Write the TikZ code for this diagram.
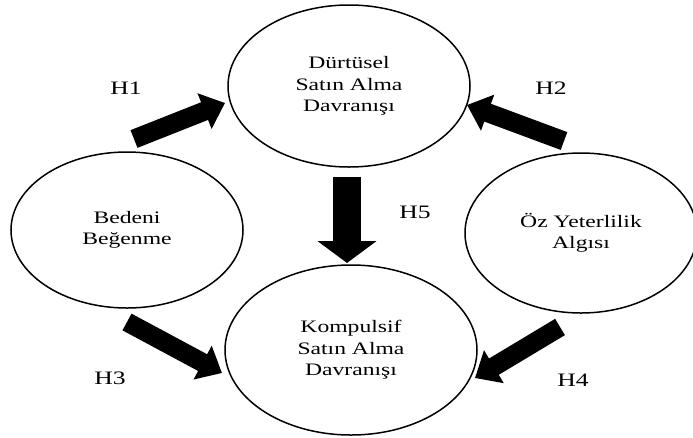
\documentclass[tikz,border=0pt]{standalone}
\usepackage{fontspec}
\setmainfont{Liberation Serif}
\newfontfamily\figfont[FakeStretch=1.35]{Liberation Serif}
\usetikzlibrary{shapes.geometric,arrows.meta}
\begin{document}
\begin{tikzpicture}[x=1pt,y=-1pt,
  ell/.style={draw, ellipse, line width=1.5pt, inner sep=0pt, align=center,
    font=\figfont\fontsize{17.5}{21.5}\selectfont},
  lbl/.style={font=\figfont\fontsize{19}{22}\selectfont, inner sep=0pt},
  barrow/.style={line width=19pt, -{Triangle[width=37pt,length=22pt]}},
  varrow/.style={line width=28pt, -{Triangle[width=58pt,length=22pt]}}]
\useasboundingbox (0,0) rectangle (693,437);
% ellipses
\node[ell, minimum width=242pt, minimum height=162pt] (D) at (349,86) {Dürtüsel\\Satın Alma\\Davranışı};
\node[ell, minimum width=232pt, minimum height=156pt] (B) at (127,230) {Bedeni\\Beğenme};
\node[ell, minimum width=232pt, minimum height=160pt] (O) at (581,233) {Öz Yeterlilik\\Algısı};
\node[ell, minimum width=252pt, minimum height=170pt] (K) at (351,350) {Kompulsif\\Satın Alma\\Davranışı};
% arrow end points
\coordinate (h1s) at (134,139); \coordinate (h1e) at (225,103);
\coordinate (h2s) at (564,141); \coordinate (h2e) at (467,105);
\coordinate (h3s) at (127,322); \coordinate (h3e) at (222,373);
\coordinate (h4s) at (560,327); \coordinate (h4e) at (475,378);
\coordinate (h5s) at (347,177); \coordinate (h5e) at (347,263);
\draw[barrow] (h1s) -- (h1e);
\draw[barrow] (h2s) -- (h2e);
\draw[barrow] (h3s) -- (h3e);
\draw[barrow] (h4s) -- (h4e);
\draw[varrow] (h5s) -- (h5e);
% labels
\node[lbl] (l1) at (126,88) {H1};
\node[lbl] (l2) at (551,88) {H2};
\node[lbl] (l3) at (110,378) {H3};
\node[lbl] (l4) at (573,380) {H4};
\node[lbl] (l5) at (415,212) {H5};
\end{tikzpicture}
\end{document}
